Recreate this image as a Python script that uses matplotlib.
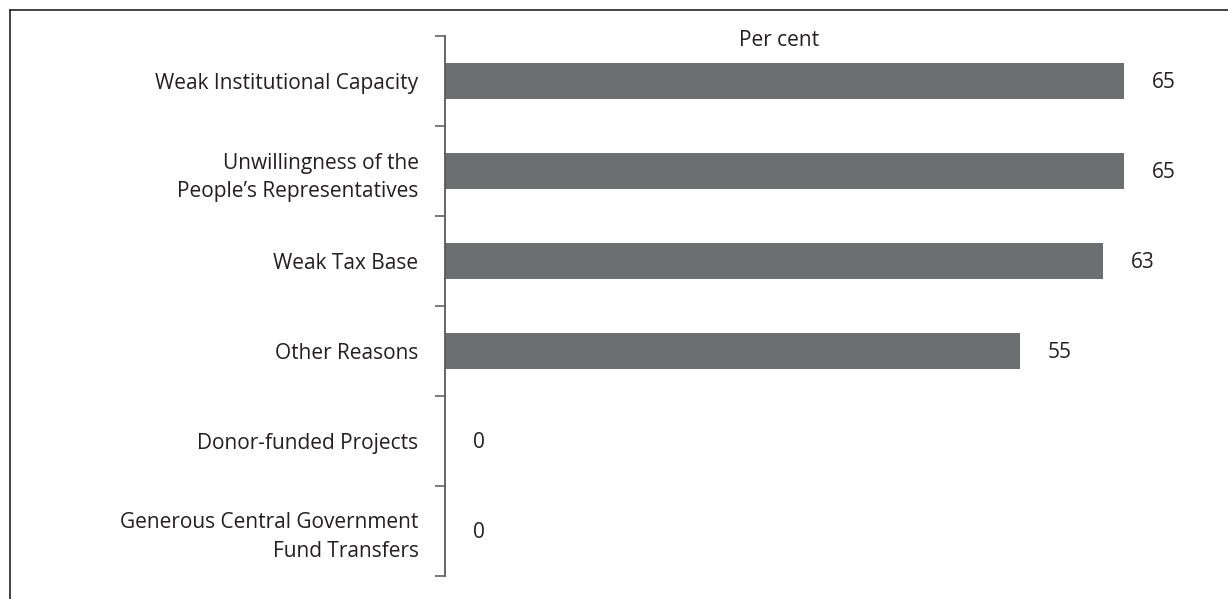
import matplotlib.pyplot as plt
from matplotlib.lines import Line2D
import numpy as np

plt.rcParams['font.family'] = ['Open Sans', 'DejaVu Sans']

categories = ['Weak Institutional Capacity',
              'Unwillingness of the\nPeople\u2019s Representatives',
              'Weak Tax Base',
              'Other Reasons',
              'Donor-funded Projects',
              'Generous Central Government\nFund Transfers']
values = [65, 65, 63, 55, 0, 0]
unit_label = 'Per cent'

W, H = 1228, 599
fig = plt.figure(figsize=(W / 100, H / 100), dpi=100)

# axes box in pixels: spine at x=445, from y=36 down to y=576
left, top, bottom = 445, 36, 576
xmax = 70
px_per_unit = (1124 - left) / 65
ax = fig.add_axes([left / W, 1 - bottom / H, xmax * px_per_unit / W, (bottom - top) / H])

n = len(categories)
ypos = np.arange(n)
ax.barh(ypos, values, height=0.4, color='#6d6e70')
ax.set_ylim(n - 0.5, -0.5)
ax.set_xlim(0, xmax)

for s in ['top', 'right', 'bottom']:
    ax.spines[s].set_visible(False)
ax.spines['left'].set_color('#595959')
ax.spines['left'].set_linewidth(1.3)

fs = 15
ax.set_xticks([])
ax.set_yticks(ypos)
ax.set_yticklabels(categories, fontsize=fs, color='#231f20', linespacing=1.45)
ax.tick_params(axis='y', which='major', length=0, pad=19)
ax.set_yticks(np.arange(n + 1) - 0.5, minor=True)
ax.tick_params(axis='y', which='minor', length=7.2, width=1.1, color='#595959')

for y, v in zip(ypos, values):
    ax.annotate(str(v), (v, y), xytext=(20, -1), textcoords='offset points',
                ha='left', va='center', fontsize=fs, color='#231f20')

fig.text(779 / W, 1 - 40 / H, unit_label, ha='center', va='center',
         fontsize=fs, color='#231f20')

# frame lines along the top and left edge
fig.add_artist(Line2D([10 / W, 1], [1 - 10 / H, 1 - 10 / H], color='#222222', lw=1.2))
fig.add_artist(Line2D([10 / W, 10 / W], [0, 1 - 10 / H], color='#222222', lw=1.2))

fig.savefig('out.png', dpi=100, facecolor='white')
